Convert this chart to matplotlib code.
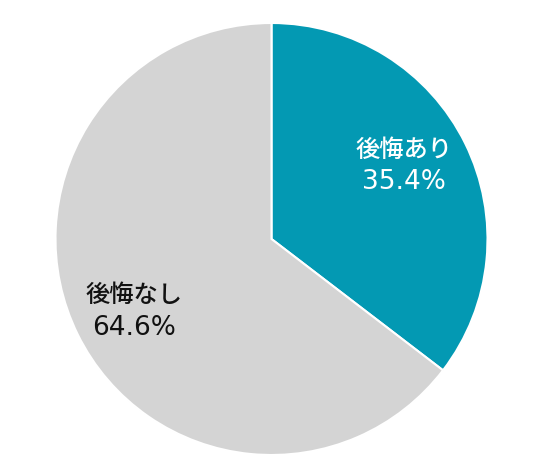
import matplotlib
matplotlib.use("Agg")
import matplotlib.pyplot as plt

plt.rcParams['font.family'] = ['Noto Sans CJK JP', 'DejaVu Sans']

categories = ["後悔あり", "後悔なし"]
values = [35.4, 64.6]
colors = ["#0399B3", "#D4D4D4"]
text_colors = ["white", "#111111"]

W, H = 543, 467
fig = plt.figure(figsize=(W / 100, H / 100), dpi=100)
ax = fig.add_axes([0, 0, 1, 1])

cx, cy, r = 271.5, H - 239, 216
ax.pie(values, colors=colors, startangle=90, counterclock=False,
       center=(cx, cy), radius=r, frame=True,
       wedgeprops=dict(edgecolor='white', linewidth=1.5))
ax.set_xlim(0, W)
ax.set_ylim(0, H)
ax.set_aspect('equal')
ax.axis('off')

# (x, y of category line, y of value line) in pixel coordinates from top
label_pos = [(404, 150, 182), (134, 295, 328)]
for cat, v, (x, y1, y2), tc in zip(categories, values, label_pos, text_colors):
    ax.text(x, H - y1, cat, ha='center', va='center', color=tc,
            fontsize=17.5, fontweight='medium',
            family=['Noto Sans CJK JP', 'DejaVu Sans'])
    ax.text(x, H - y2, f"{v:.1f}%", ha='center', va='center', color=tc,
            fontsize=19, family=['DejaVu Sans'])

fig.savefig("out.png", dpi=100)
